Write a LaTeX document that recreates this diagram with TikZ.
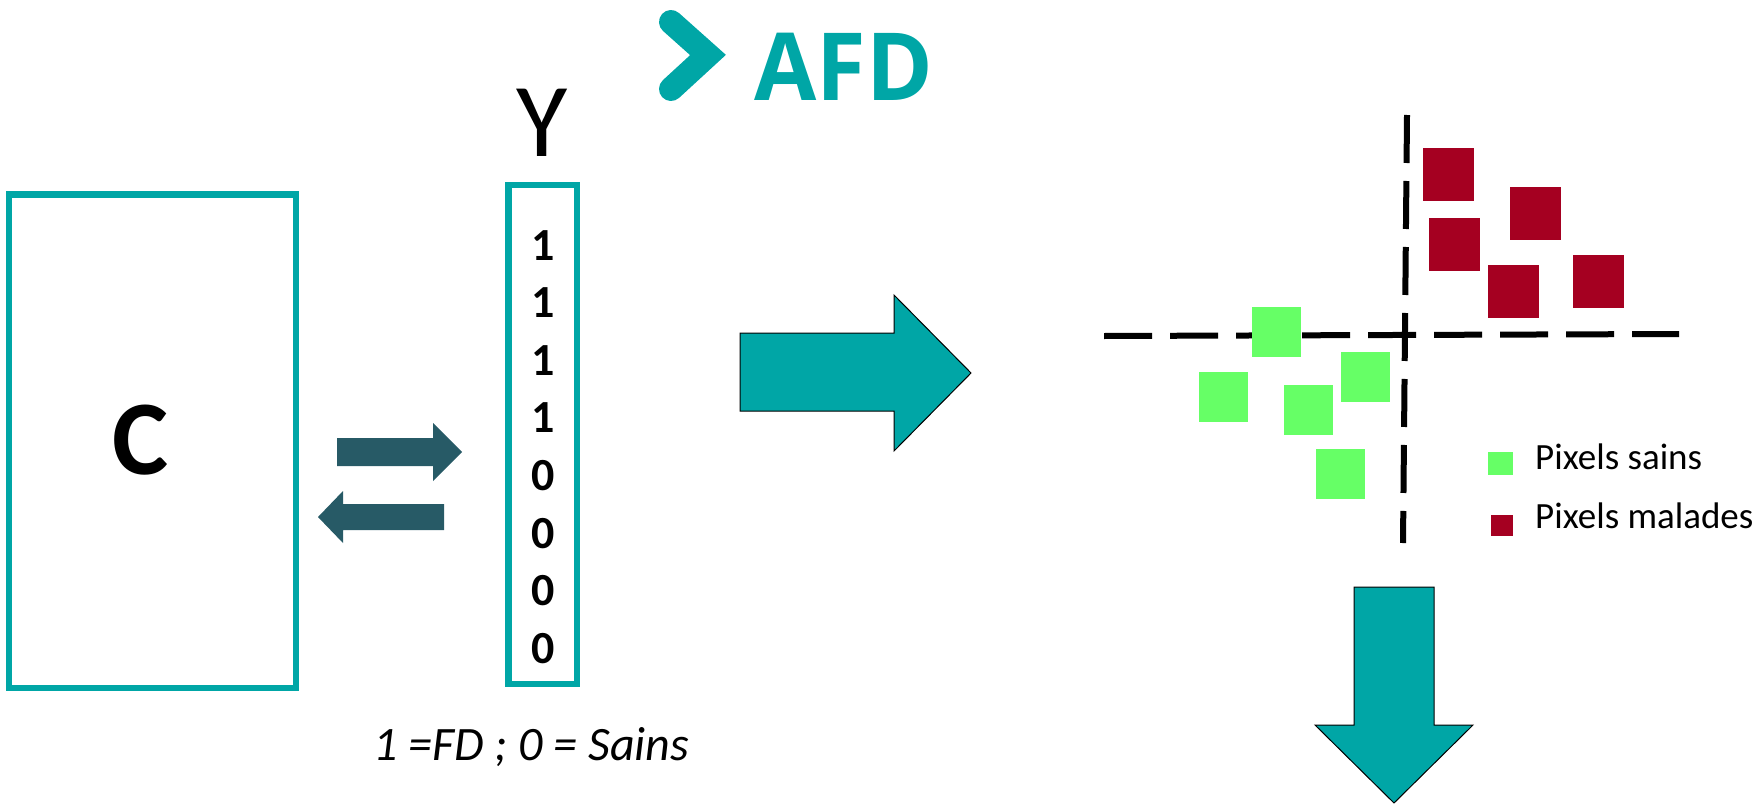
\documentclass[tikz,border=0pt]{standalone}
\usepackage{fontspec}
\setmainfont{Carlito}
\newfontfamily\logofont{Open Sans}
\definecolor{teal}{HTML}{00A6A6}
\definecolor{slate}{HTML}{275A66}
\definecolor{sick}{HTML}{A50021}
\definecolor{healthy}{HTML}{66FF66}
\tikzset{
  frame/.style={draw=teal, line width=6.5pt},
  bigarrow/.style={fill=teal, draw=black, line width=1pt, line join=miter},
  smallarrow/.style={fill=slate},
  axis/.style={draw=black, line width=6pt, dash pattern=on 48pt off 18pt},
  digit/.style={anchor=base, inner sep=0pt, font=\fontsize{46}{50}\selectfont\bfseries},
  legend/.style={anchor=base west, inner sep=0pt, font=\fontsize{37}{40}\selectfont},
}
\begin{document}
\begin{tikzpicture}[x=1pt, y=-1pt]
\useasboundingbox (0,0) rectangle (1758,808);

% logo
\draw[teal, line width=24pt, line cap=round, line join=miter] (671,22) -- (708,55) -- (671,89);
\node[anchor=base west, inner sep=0pt, text=teal, font=\fontsize{94}{100}\selectfont\logofont\bfseries] (afd) at (754,100) {\scalebox{0.96}[1]{AFD}};

% matrix C
\node[frame, minimum width=287pt, minimum height=493.5pt, inner sep=0pt] (cbox) at (152.5,441.25) {};
\node[anchor=base, inner sep=0pt, font=\fontsize{106}{110}\selectfont\bfseries] (clabel) at (141,474) {C};

% exchange arrows between C and Y
\fill[smallarrow] (337,438) -- (433,438) -- (433,423) -- (462,452) -- (433,481) -- (433,466) -- (337,466) -- cycle;
\fill[smallarrow] (444,504) -- (343,504) -- (343,491) -- (318,517) -- (343,543) -- (343,530) -- (444,530) -- cycle;

% vector Y
\node[anchor=base, inner sep=0pt, font=\fontsize{105}{110}\selectfont] (ylabel) at (542,156) {Y};
\node[frame, minimum width=68.5pt, minimum height=499pt, inner sep=0pt] (ybox) at (542.75,434.5) {};
\foreach \v [count=\i from 0] in {1,1,1,1,0,0,0,0}
  \node[digit] (d\i) at (543,{260+57.6*\i}) {\v};

\node[anchor=base west, inner sep=0pt, font=\fontsize{48}{52}\selectfont\itshape] (caption) at (373,760) {1 =FD ; 0 = Sains};

% big arrows
\draw[bigarrow] (740,333) -- (894,333) -- (894,295) -- (971,373) -- (894,451) -- (894,411) -- (740,411) -- cycle;
\draw[bigarrow] (1354,587) -- (1434,587) -- (1434,725) -- (1473,725) -- (1394,803) -- (1315,725) -- (1354,725) -- cycle;

% discriminant axes
\coordinate (vtop) at (1407,115);
\coordinate (vbot) at (1403,543);
\coordinate (hleft) at (1104,336);
\coordinate (hright) at (1679,334);
\draw[axis] (vtop) -- (vbot);
\draw[axis] (hleft) -- (hright);

% diseased pixels
\foreach \x/\y in {1423/148, 1510/187, 1429/218, 1488/265, 1573/255}
  \fill[sick] (\x,\y) rectangle ++(51,53);
% healthy pixels
\foreach \x/\y in {1252/307, 1199/372, 1284/385, 1341/352, 1316/449}
  \fill[healthy] (\x,\y) rectangle ++(49,50);

% legend
\fill[healthy] (1488,452) rectangle (1513,475);
\fill[sick] (1491,515) rectangle (1513,536);
\node[legend] (lsain) at (1535,469) {Pixels sains};
\node[legend] (lmal) at (1535,528) {Pixels malades};
\end{tikzpicture}
\end{document}
